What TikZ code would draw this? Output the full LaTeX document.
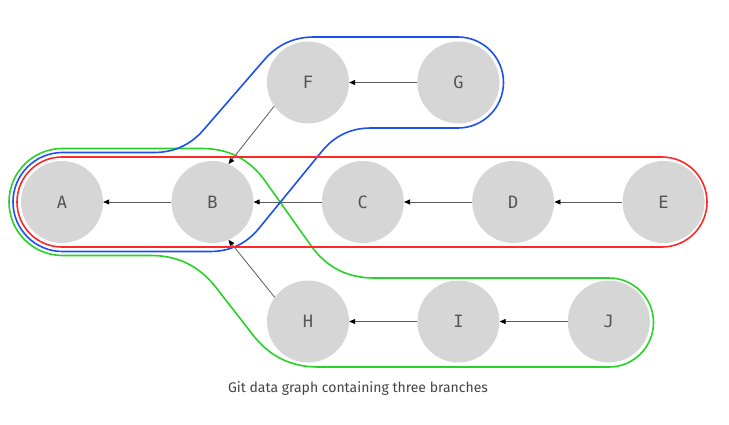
\documentclass[tikz,border=0pt]{standalone}
\usepackage{fontspec}
\setmainfont{Fira Sans}
\newfontfamily\commitfont{DejaVu Sans Mono}
\usepackage{tikz}
\usetikzlibrary{arrows.meta,positioning}
\definecolor{commitgray}{RGB}{214,214,214}
\definecolor{labelgray}{RGB}{85,85,85}
\definecolor{linegray}{RGB}{90,90,90}
\definecolor{captiongray}{RGB}{68,68,68}
\definecolor{mainred}{RGB}{255,40,40}
\definecolor{featblue}{RGB}{30,80,240}
\definecolor{fixgreen}{RGB}{40,210,40}

\begin{document}
\begin{tikzpicture}[
    x=1pt, y=1pt,
    node distance=68pt,
    commit/.style={circle, fill=commitgray, minimum size=82pt, inner sep=0pt, text=labelgray, font=\commitfont\fontsize{17}{20}\selectfont},
    parent/.style={-{Triangle[length=6pt,width=5pt,color=black,fill=black]}, draw=linegray, line width=0.8pt},
    branch/.style={line width=1.6pt}
]
    \useasboundingbox (0,0) rectangle (729,424);

    \node [commit] (a) at (62,222) {A};
    \node [commit, right=of a] (b) {B};
    \node [commit, right=of b] (c) {C};
    \node [commit, right=of c] (d) {D};
    \node [commit, right=of d] (e) {E};

    \node [commit] (f) at (308,341.5) {F};
    \node [commit, right=of f] (g) {G};

    \node [commit] (h) at (308,102.5) {H};
    \node [commit, right=of h] (i) {I};
    \node [commit, right=of i] (j) {J};

    \draw [parent] (b) -- (a);
    \draw [parent] (c) -- (b);
    \draw [parent] (d) -- (c);
    \draw [parent] (e) -- (d);
    \draw [parent] (g) -- (f);
    \draw [parent] (f.215) -- (b.67);
    \draw [parent] (i) -- (h);
    \draw [parent] (j) -- (i);
    \draw [parent] (h.144) -- (b.293);

    % branches
    \draw [branch, fixgreen] (62.5,275.5) -- (202,275.5) .. controls (228.7,275.5) and (249.7,264.7) .. (265.2,242.9)
        -- (310.8,178.6) .. controls (326.3,156.8) and (347.3,146) .. (374,146) -- (609,146)
        arc [start angle=90, end angle=-90, radius=44.5]
        -- (318,57) .. controls (291.3,57) and (269.8,67.5) .. (253.4,88.5)
        -- (215.6,137) .. controls (199.2,158) and (177.7,168.5) .. (151,168.5) -- (62.5,168.5)
        arc [start angle=270, end angle=90, radius=53.5] -- cycle;
    \draw [branch, featblue] (62.5,271.5) -- (154,271.5) .. controls (174,271.5) and (190.5,279.1) .. (203.6,294.2)
        -- (264.4,364.3) .. controls (277.5,379.4) and (294,387) .. (314,387) -- (458,387)
        arc [start angle=90, end angle=-90, radius=45.5]
        -- (371,296) .. controls (351,296) and (334.7,288.3) .. (322,272.8)
        -- (259,195.7) .. controls (246.3,180.2) and (230,172.5) .. (210,172.5) -- (62.5,172.5)
        arc [start angle=270, end angle=90, radius=49.5] -- cycle;
    \draw [branch, mainred, rounded corners=45pt] (17,177) rectangle (707,267);

    \node [text=captiongray, font=\fontsize{14}{17}\selectfont] (caption) at (358,35) {Git data graph containing three branches};
\end{tikzpicture}
\end{document}
